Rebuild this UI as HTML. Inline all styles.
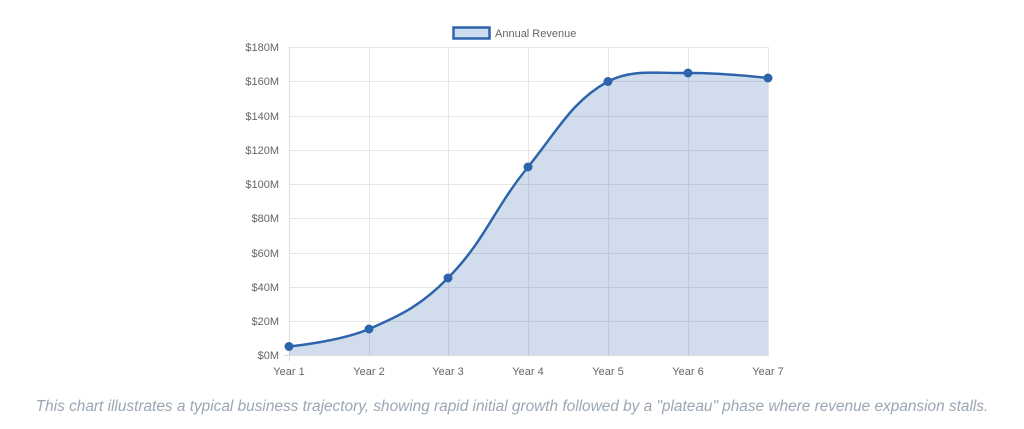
<!DOCTYPE html>
<html><head><meta charset="utf-8"><style>
html,body{margin:0;padding:0;background:#fff;width:1024px;height:429px;overflow:hidden}
svg{position:absolute;left:0;top:0}
.t{font-family:"Liberation Sans",sans-serif;font-size:11px;fill:#666}
.cap{position:absolute;left:0;width:1024px;top:398px;text-align:center;font-family:"Liberation Sans",sans-serif;font-style:italic;font-size:15.4px;color:#9aa6b4;white-space:nowrap}
</style></head><body>
<svg width="1024" height="429">
<g stroke="#e6e6e6" stroke-width="1">
<line x1="289" y1="47.5" x2="768" y2="47.5"/><line x1="289" y1="81.5" x2="768" y2="81.5"/>
<line x1="289" y1="116.5" x2="768" y2="116.5"/><line x1="289" y1="150.5" x2="768" y2="150.5"/>
<line x1="289" y1="184.5" x2="768" y2="184.5"/><line x1="289" y1="218.5" x2="768" y2="218.5"/>
<line x1="289" y1="253.5" x2="768" y2="253.5"/><line x1="289" y1="287.5" x2="768" y2="287.5"/>
<line x1="289" y1="321.5" x2="768" y2="321.5"/>
<line x1="369.5" y1="47" x2="369.5" y2="356"/><line x1="448.5" y1="47" x2="448.5" y2="356"/>
<line x1="528.5" y1="47" x2="528.5" y2="356"/><line x1="608.5" y1="47" x2="608.5" y2="356"/>
<line x1="688.5" y1="47" x2="688.5" y2="356"/><line x1="768.5" y1="47" x2="768.5" y2="356"/>
</g>
<line x1="289.5" y1="47" x2="289.5" y2="361" stroke="#ddd"/>
<line x1="284" y1="355.5" x2="768" y2="355.5" stroke="#ddd"/>
<path d="M289,346.5 C289,346.5 339.4,341.7 369,329 C403,314.3 422.1,304.4 448,278 C485.7,239.6 493.4,209.4 528,167 C557.4,130.8 572,101 608,81.5 C632,69 656,73.5 688,73 C720,72.5 768,78 768,78 L768,355 L289,355 Z" fill="rgba(44,100,170,0.22)"/>
<path d="M289,346.5 C289,346.5 339.4,341.7 369,329 C403,314.3 422.1,304.4 448,278 C485.7,239.6 493.4,209.4 528,167 C557.4,130.8 572,101 608,81.5 C632,69 656,73.5 688,73 C720,72.5 768,78 768,78" fill="none" stroke="#2e64ab" stroke-width="2.5"/>
<g fill="#2e64ab">
<circle cx="289" cy="346.5" r="4.5"/><circle cx="369" cy="329" r="4.5"/><circle cx="448" cy="278" r="4.5"/>
<circle cx="528" cy="167" r="4.5"/><circle cx="608" cy="81.5" r="4.5"/><circle cx="688" cy="73" r="4.5"/><circle cx="768" cy="78" r="4.5"/>
</g>
<rect x="453.5" y="27.5" width="36" height="11" fill="#cddcf0" stroke="#2e64ab" stroke-width="2.5"/>
<text class="t" x="495" y="37">Annual Revenue</text>
<g class="t" text-anchor="end">
<text x="279" y="51">$180M</text><text x="279" y="85">$160M</text><text x="279" y="120">$140M</text>
<text x="279" y="154">$120M</text><text x="279" y="188">$100M</text><text x="279" y="222">$80M</text>
<text x="279" y="257">$60M</text><text x="279" y="291">$40M</text><text x="279" y="325">$20M</text>
<text x="279" y="359">$0M</text>
</g>
<g class="t" text-anchor="middle">
<text x="289" y="375">Year 1</text><text x="369" y="375">Year 2</text><text x="448" y="375">Year 3</text>
<text x="528" y="375">Year 4</text><text x="608" y="375">Year 5</text><text x="688" y="375">Year 6</text><text x="768" y="375">Year 7</text>
</g>
</svg>
<div class="cap">This chart illustrates a typical business trajectory, showing rapid initial growth followed by a "plateau" phase where revenue expansion stalls.</div>
</body></html>
